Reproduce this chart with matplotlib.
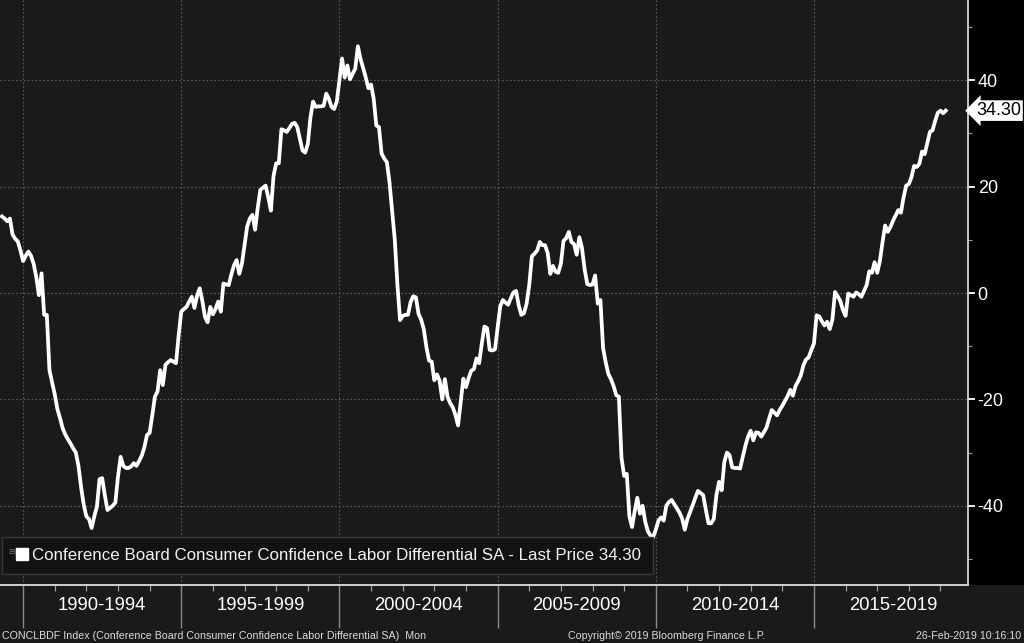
#!/usr/bin/env python

import matplotlib
matplotlib.use('Agg')
import numpy as np
import pandas as pd
from matplotlib import pyplot as plt
from matplotlib.lines import Line2D
from matplotlib.patches import Rectangle
from matplotlib.ticker import MultipleLocator

# Monthly values (month end), Apr-1989 .. Feb-2019
vals_1989 = [14.4, 14.0, 13.5, 14.0, 11.0, 10.2, 9.7, 8.0, 6.0]
vals_1990_1994 = [
    7.0, 7.8, 7.0, 5.5, 3.0, -0.4, 3.7, -4.1, -4.1, -14.5, -16.8, -19.0,
    -21.8, -23.5, -25.4, -26.6, -27.5, -28.3, -29.2, -30.0, -32.5, -36.5, -39.8, -42.0,
    -42.5, -44.2, -42.0, -40.2, -35.0, -34.8, -38.0, -40.8, -40.4, -40.0, -39.4, -34.5,
    -30.8, -32.5, -32.9, -32.9, -32.6, -32.0, -32.5, -31.6, -30.6, -29.0, -26.7, -26.3,
    -23.0, -19.5, -18.5, -14.5, -17.3, -13.5, -13.0, -12.6, -12.9, -13.2, -8.0, -3.5,
]
vals_1995_1999 = [
    -3.0, -2.6, -1.6, -0.7, -2.8, -0.5, 0.9, -1.5, -4.5, -5.5, -2.6, -4.0,
    -3.0, -1.6, -3.5, 1.8, 1.6, 1.5, 3.5, 5.2, 6.2, 3.6, 5.5, 9.0,
    12.5, 14.0, 14.7, 11.9, 16.0, 19.4, 19.8, 20.2, 18.0, 15.5, 22.0, 24.4,
    24.4, 30.8, 30.6, 30.3, 31.0, 31.8, 32.0, 31.2, 29.0, 26.8, 26.4, 28.0,
    33.0, 36.0, 35.0, 35.1, 35.1, 35.2, 37.5, 36.5, 35.0, 34.6, 36.0, 40.0,
]
vals_2000_2004 = [
    44.1, 40.5, 42.8, 40.2, 41.2, 42.2, 46.4, 44.0, 42.3, 40.5, 38.5, 39.2,
    36.5, 31.5, 31.2, 26.2, 25.3, 24.6, 20.8, 15.5, 10.0, 1.5, -5.1, -4.3,
    -4.1, -4.1, -1.7, -0.6, -0.8, -3.9, -5.0, -6.8, -10.2, -12.7, -12.9, -16.4,
    -15.3, -16.5, -20.0, -16.2, -19.5, -20.7, -21.5, -22.9, -24.9, -20.5, -16.1, -17.7,
    -16.0, -14.6, -14.3, -12.3, -13.2, -9.5, -6.3, -6.6, -10.7, -10.8, -10.6, -6.5,
]
vals_2005_2009 = [
    -2.5, -1.3, -1.8, -2.2, -1.0, 0.1, 0.4, -2.3, -4.1, -3.8, -2.0, 1.5,
    6.9, 7.4, 8.0, 9.6, 9.0, 9.0, 7.5, 3.6, 5.1, 4.0, 3.8, 5.5,
    9.8, 10.3, 11.5, 9.6, 9.2, 7.2, 10.5, 8.5, 4.5, 1.7, 1.5, 1.6,
    3.3, -2.0, -1.3, -10.3, -13.0, -15.2, -16.2, -17.5, -19.2, -19.5, -31.0, -34.4,
    -34.0, -42.0, -44.0, -41.0, -38.5, -41.5, -40.0, -43.0, -44.8, -45.6, -45.9, -44.5,
]
vals_2010_2014 = [
    -42.8, -42.2, -42.8, -40.0, -39.3, -38.9, -39.7, -40.5, -41.3, -42.4, -44.5, -42.5,
    -41.2, -39.9, -38.5, -37.2, -37.6, -38.0, -40.8, -43.3, -43.3, -42.5, -38.0, -35.5,
    -37.1, -31.8, -30.0, -30.5, -32.8, -32.9, -32.9, -33.0, -30.8, -28.7, -27.0, -25.9,
    -27.7, -26.2, -26.3, -27.0, -26.2, -25.3, -23.6, -22.0, -22.5, -23.0, -22.0, -21.2,
    -20.3, -19.4, -18.2, -19.3, -17.5, -16.6, -15.5, -13.6, -12.5, -12.1, -10.7, -9.5,
]
vals_2015_2019 = [
    -4.2, -4.4, -5.3, -6.1, -5.4, -6.8, -5.0, 0.2, -0.6, -1.5, -3.2, -4.3,
    -0.1, -0.4, -0.7, 0.1, -0.2, -0.7, 0.4, 1.5, 4.1, 3.8, 5.8, 3.8,
    6.0, 9.5, 12.7, 11.5, 12.4, 13.6, 14.6, 15.6, 15.1, 18.0, 20.2, 20.5,
    21.8, 23.9, 23.7, 24.3, 26.6, 26.1, 28.2, 30.3, 30.6, 32.4, 33.9, 34.3,
    33.8, 34.3,
]

period_starts = [1990, 1995, 2000, 2005, 2010, 2015]
period_labels = ['1990-1994', '1995-1999', '2000-2004', '2005-2009', '2010-2014', '2015-2019']
last_price = 34.30

legend_label = 'Conference Board Consumer Confidence Labor Differential SA - Last Price 34.30'
footer_left = 'CONCLBDF Index (Conference Board Consumer Confidence Labor Differential SA)  Mon'
footer_mid = 'Copyright\u00a9 2019 Bloomberg Finance L.P.'
footer_right = '26-Feb-2019 10:16:10'

PLOT_BG = '#1a1a1a'
FONT = ['Liberation Sans', 'DejaVu Sans']

W, H = 1024, 643


def get_series():
    values = (vals_1989 + vals_1990_1994 + vals_1995_1999 + vals_2000_2004
              + vals_2005_2009 + vals_2010_2014 + vals_2015_2019)
    dates = pd.date_range('1989-04-30', periods=len(values), freq='ME')
    # decimal years, month end
    t = dates.year + dates.month / 12.0
    return np.asarray(t), np.asarray(values)


def style_axes(ax):
    ax.set_facecolor(PLOT_BG)
    ax.set_xlim(1989.27, 2019.87)
    ax.set_ylim(-54.9, 55.1)

    for side in ('top', 'left'):
        ax.spines[side].set_visible(False)
    ax.spines['bottom'].set_color('#d0d0d0')
    ax.spines['bottom'].set_linewidth(1.4)
    ax.spines['right'].set_color('#e6e6e6')
    ax.spines['right'].set_linewidth(1.2)

    ax.yaxis.tick_right()
    ax.yaxis.set_major_locator(MultipleLocator(20))
    ax.yaxis.set_minor_locator(MultipleLocator(10))
    ax.tick_params(axis='y', which='major', length=5, width=1.3, color='white',
                   labelcolor='white', labelsize=13, pad=2)
    ax.tick_params(axis='y', which='minor', length=3, width=0.8, color='#9a9a9a')
    for lab in ax.get_yticklabels():
        lab.set_family(FONT)

    ax.set_xticks(period_starts)
    ax.set_xticks(range(1990, 2020), minor=True)
    ax.tick_params(axis='x', which='major', length=31, width=1.0, color='#8a8a8a',
                   labelbottom=False)
    ax.tick_params(axis='x', which='minor', length=4, width=0.9, color='#a0a0a0')

    ax.grid(True, which='major', color='#5c5c5c', linestyle=(0, (1.5, 2.0)), linewidth=0.8)
    ax.set_axisbelow(True)


def add_period_labels(ax):
    trans = ax.get_xaxis_transform()
    for start, label in zip(period_starts, period_labels):
        ax.text(start + 2.5, -21 / 585, label, transform=trans, ha='center', va='center',
                color='white', fontsize=13.3, family=FONT, clip_on=False)


def add_legend(ax, fig):
    handle = Line2D([], [], marker='s', color='white', linestyle='none', markersize=8.5)
    leg = ax.legend([handle], [legend_label], loc='lower left',
                    bbox_to_anchor=(2 / 968, 11 / 585), borderaxespad=0,
                    frameon=True, fancybox=False, framealpha=1,
                    facecolor='#121212', edgecolor='#383838',
                    handlelength=1.05, handletextpad=0.1, borderpad=0.65,
                    prop={'family': FONT, 'size': 12.2})
    for txt in leg.get_texts():
        txt.set_color('#f2f2f2')
    leg.get_frame().set_linewidth(1.0)
    fig.text(12 / W, 1 - 551 / H, '\u229f', fontsize=6, color='#777777',
             ha='center', va='center', family=['DejaVu Sans'])


def add_last_price(ax):
    ax.text(1 + 8 / 968, last_price, f'{last_price:.2f}', transform=ax.get_yaxis_transform(),
            ha='left', va='center', fontsize=13, color='black', family=FONT,
            bbox=dict(boxstyle='larrow,pad=0.1', fc='white', ec='none'), clip_on=False)


def add_footer(fig):
    y = 1 - 636 / H
    kw = dict(fontsize=7.7, color='#dcdcdc', va='center', family=FONT)
    fig.text(2 / W, y, footer_left, ha='left', **kw)
    fig.text(667 / W, y, footer_mid, ha='center', **kw)
    fig.text(1021 / W, y, footer_right, ha='right', **kw)


def main():
    plt.rcParams['axes.unicode_minus'] = False
    t, values = get_series()

    fig = plt.figure(figsize=(W / 100, H / 100), dpi=100, facecolor='black')
    fig.add_artist(Rectangle((0, 0), 1, 58 / H, transform=fig.transFigure,
                             facecolor=PLOT_BG, edgecolor='none', zorder=-1))
    ax = fig.add_axes([0, 58 / H, 968 / W, 585 / H])
    style_axes(ax)

    ax.plot(t, values, color='white', linewidth=2.7, solid_joinstyle='round', zorder=3)

    add_period_labels(ax)
    add_legend(ax, fig)
    add_last_price(ax)
    add_footer(fig)

    fig.savefig('out.png', dpi=100, facecolor=fig.get_facecolor())
    plt.close(fig)


if __name__ == '__main__':
    main()
